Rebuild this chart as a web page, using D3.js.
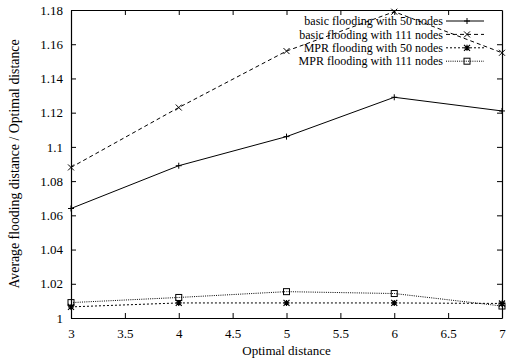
<!DOCTYPE html>
<html>
<head>
<meta charset="utf-8">
<script src="https://cdn.jsdelivr.net/npm/d3@7"></script>
<style>
  body { margin: 0; background: #fff; }
  text { font-family: "Liberation Serif", "DejaVu Serif", serif; font-size: 13px; fill: #000; }
</style>
</head>
<body>
<svg id="chart"></svg>
<script>
// values
const distances = [3, 4, 5, 6, 7];
const basic50 = [1.064, 1.089, 1.106, 1.129, 1.121];
const basic111 = [1.088, 1.123, 1.156, 1.179, 1.155];
const mpr50 = [1.0065, 1.0088, 1.0088, 1.0088, 1.0085];
const mpr111 = [1.009, 1.012, 1.0154, 1.0143, 1.007];
const seriesNames = [
    'basic flooding with 50 nodes',
    'basic flooding with 111 nodes',
    'MPR flooding with 50 nodes',
    'MPR flooding with 111 nodes'
];
const xTicks = [3, 3.5, 4, 4.5, 5, 5.5, 6, 6.5, 7];
const yTicks = [1, 1.02, 1.04, 1.06, 1.08, 1.1, 1.12, 1.14, 1.16, 1.18];

const width = 522, height = 360;
const margin = {left: 71, right: 20, top: 10, bottom: 42};

const svg = d3.select('#chart').attr('width', width).attr('height', height);

const x = d3.scaleLinear().domain([3, 7]).range([margin.left, width - margin.right]);
const y = d3.scaleLinear().domain([1, 1.18]).range([height - margin.bottom, margin.top]);

const series = [
    {name: seriesNames[0], values: basic50, dash: null, marker: 'plus'},
    {name: seriesNames[1], values: basic111, dash: '4,3', marker: 'cross'},
    {name: seriesNames[2], values: mpr50, dash: '2,2', marker: 'star'},
    {name: seriesNames[3], values: mpr111, dash: '1,1.2', marker: 'square'}
];

// axes with inward ticks, mirrored like gnuplot
const tickLen = 5;
svg.append('g')
    .attr('transform', `translate(0,${y(1)})`)
    .call(d3.axisBottom(x).tickValues(xTicks).tickSizeInner(-tickLen).tickSizeOuter(0).tickPadding(11)
        .tickFormat(d3.format('')));
svg.append('g')
    .attr('transform', `translate(0,${y(1.18)})`)
    .call(d3.axisTop(x).tickValues(xTicks.slice(1, -1)).tickSizeInner(-tickLen).tickSizeOuter(0).tickFormat(''));
svg.append('g')
    .attr('transform', `translate(${x(3)},0)`)
    .call(d3.axisLeft(y).tickValues(yTicks).tickSizeInner(-tickLen).tickSizeOuter(0).tickPadding(8)
        .tickFormat(d3.format('')));
svg.append('g')
    .attr('transform', `translate(${x(7)},0)`)
    .call(d3.axisRight(y).tickValues(yTicks.slice(1, -1)).tickSizeInner(-tickLen).tickSizeOuter(0).tickFormat(''));

svg.selectAll('.domain').attr('stroke', '#000').attr('stroke-width', 1.2);
svg.selectAll('.tick line').attr('stroke', '#000');
svg.selectAll('.tick text').style('font-family', '"Liberation Serif", serif').style('font-size', '13px');

// axis titles
svg.append('text')
    .attr('x', (x(3) + x(7)) / 2)
    .attr('y', height - 5)
    .attr('text-anchor', 'middle')
    .text('Optimal distance');
svg.append('text')
    .attr('transform', `translate(19,${(y(1) + y(1.18)) / 2}) rotate(-90)`)
    .attr('text-anchor', 'middle')
    .style('font-size', '13.8px')
    .text('Average flooding distance / Optimal distance');

function drawMarker(g, type, cx, cy) {
    const s = 3;
    if (type === 'plus') {
        g.append('path').attr('d', `M${cx - s},${cy}H${cx + s}M${cx},${cy - s}V${cy + s}`)
            .attr('stroke', '#000').attr('stroke-width', 1);
    } else if (type === 'cross') {
        g.append('path').attr('d', `M${cx - s},${cy - s}L${cx + s},${cy + s}M${cx - s},${cy + s}L${cx + s},${cy - s}`)
            .attr('stroke', '#000').attr('stroke-width', 1);
    } else if (type === 'star') {
        g.append('path').attr('d', `M${cx - s},${cy}H${cx + s}M${cx},${cy - s}V${cy + s}M${cx - s},${cy - s}L${cx + s},${cy + s}M${cx - s},${cy + s}L${cx + s},${cy - s}`)
            .attr('stroke', '#000').attr('stroke-width', 1.2);
    } else if (type === 'square') {
        g.append('rect').attr('x', cx - s).attr('y', cy - s).attr('width', 2 * s).attr('height', 2 * s)
            .attr('fill', 'none').attr('stroke', '#000').attr('stroke-width', 1);
    }
}

const line = d3.line().x((d, i) => x(distances[i])).y(d => y(d));

series.forEach(s => {
    const g = svg.append('g');
    g.append('path')
        .datum(s.values)
        .attr('d', line)
        .attr('fill', 'none')
        .attr('stroke', '#000')
        .attr('stroke-width', 1)
        .attr('stroke-dasharray', s.dash);
    s.values.forEach((v, i) => drawMarker(g, s.marker, x(distances[i]), y(v)));
});

// legend, top right (rows kept tight like the original key)
const legend = svg.append('g');
series.forEach((s, i) => {
    const ly = 21 + i * 13.4;
    legend.append('text')
        .attr('x', 443)
        .attr('y', ly + 4.2)
        .attr('text-anchor', 'end')
        .style('font-size', '12px')
        .text(s.name);
    legend.append('line')
        .attr('x1', 446).attr('x2', 484)
        .attr('y1', ly).attr('y2', ly)
        .attr('stroke', '#000')
        .attr('stroke-dasharray', s.dash);
    drawMarker(legend, s.marker, 467, ly);
});
</script>
</body>
</html>
